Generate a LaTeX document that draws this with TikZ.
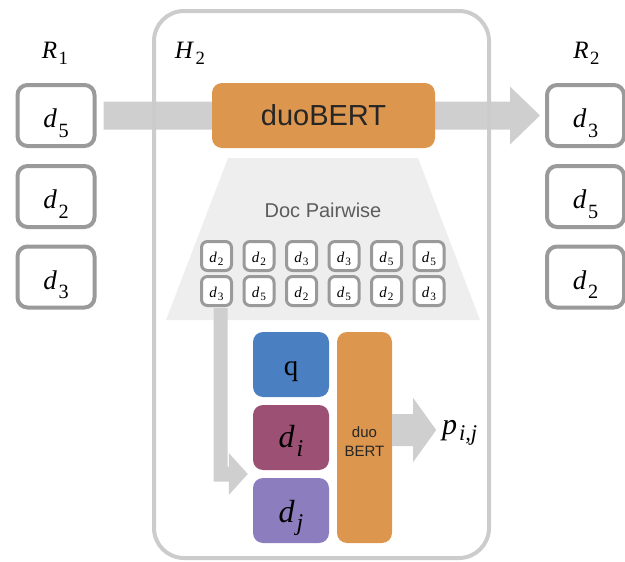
\documentclass[tikz,border=0pt]{standalone}
\usepackage{fontspec}
\usepackage{graphicx}
\setmainfont{Liberation Serif}
\newfontfamily\sansfam{Liberation Sans}
\usetikzlibrary{calc}

\definecolor{boxgray}{HTML}{9A9A9A}
\definecolor{framegray}{HTML}{CCCCCC}
\definecolor{arrowgray}{HTML}{CFCFCF}
\definecolor{trapgray}{HTML}{EEEEEE}
\definecolor{bertorange}{HTML}{DC964E}
\definecolor{qblue}{HTML}{4A7FC2}
\definecolor{dimauve}{HTML}{9B5074}
\definecolor{djpurple}{HTML}{8B7DBE}
\definecolor{labelgray}{HTML}{5C5C5C}

% italic symbol with a lowered, scaled subscript
\newcommand\symsub[3][0.2em]{\textit{#2}\kern0.06em\raisebox{-#1}{\scalebox{0.75}{#3}}}

\begin{document}
\begin{tikzpicture}[x=1pt,y=-1pt,
  docbox/.style={draw=boxgray, line width=4pt, rounded corners=10pt, fill=white,
    minimum width=77pt, minimum height=61pt, inner sep=0pt,
    text height=24pt, text depth=0pt, font=\fontsize{27pt}{31pt}\selectfont},
  pairbox/.style={draw=boxgray, line width=3pt, rounded corners=6pt, fill=white,
    minimum width=30pt, minimum height=29pt, inner sep=0pt,
    text height=12pt, text depth=0pt, font=\fontsize{15pt}{18pt}\selectfont},
  tile/.style={rounded corners=10pt, inner sep=0pt, minimum width=76pt, minimum height=65pt,
    text depth=0pt},
  headlabel/.style={anchor=base, inner sep=0pt, font=\fontsize{25pt}{29pt}\selectfont},
]
\useasboundingbox (0,0) rectangle (625,562);

% ranked lists R1 and R2
\node[docbox] (r1a) at (56,115.5) {\symsub[0.36em]{d}{5}};
\node[docbox] (r1b) at (56,196.5) {\symsub[0.36em]{d}{2}};
\node[docbox] (r1c) at (56,277)   {\symsub[0.36em]{d}{3}};
\node[docbox] (r2a) at (585.5,115.5) {\symsub[0.36em]{d}{3}};
\node[docbox] (r2b) at (585.5,196.5) {\symsub[0.36em]{d}{5}};
\node[docbox] (r2c) at (585.5,277)   {\symsub[0.36em]{d}{2}};

% main flow arrow from R1 to R2
\fill[arrowgray] ($(r1a.east)+(7,-14)$) -- ($(r2a.west)+(-35,-14)$) -- ++(0,-15)
  -- ($(r2a.west)+(-5,0)$) -- ($(r2a.west)+(-35,29)$) -- ++(0,-15)
  -- ($(r1a.east)+(7,14)$) -- cycle;

% H2 frame
\node[draw=framegray, line width=4pt, rounded corners=30pt, inner sep=0pt,
  minimum width=335pt, minimum height=547pt] (hframe) at (321.5,284.5) {};

% pairwise expansion area
\fill[trapgray] (228,158) -- (418,158) -- (480,320) -- (166,320) -- cycle;

% duoBERT stage
\node[fill=bertorange, rounded corners=10pt, minimum width=223pt, minimum height=65pt,
  inner sep=0pt, font=\sansfam\fontsize{29pt}{34pt}\selectfont, text=black!85]
  (bert) at (323.5,115.5) {duoBERT};

\node[text=labelgray, font=\sansfam\fontsize{20pt}{24pt}\selectfont, inner sep=0pt]
  (pairlabel) at (323,210) {Doc Pairwise};

% document pairs
\foreach \i/\top/\bot in {1/2/3, 2/2/5, 3/3/2, 4/3/5, 5/5/2, 6/5/3} {
  \node[pairbox] (t\i) at ({216.5+42.5*(\i-1)},256) {\symsub[0.25em]{d}{\top}};
  \node[pairbox] (b\i) at ({216.5+42.5*(\i-1)},291) {\symsub[0.25em]{d}{\bot}};
}

% pair inputs and the pairwise model
\node[tile, fill=qblue, text height=21pt, font=\fontsize{29pt}{33pt}\selectfont]
  (q) at (291,364.5) {q};
\node[tile, fill=dimauve, text height=19pt, font=\fontsize{32pt}{36pt}\selectfont]
  (di) at (291,437.5) {\symsub[0.3em]{d}{\textit{i}}};
\node[tile, fill=djpurple, text height=23pt, font=\fontsize{32pt}{36pt}\selectfont]
  (dj) at (291,510.5) {\symsub[0.25em]{d}{\textit{j}}};
\node[fill=bertorange, rounded corners=10pt, inner sep=0pt, minimum width=55pt,
  minimum height=211pt, align=center, text=black!85, text height=37pt, text depth=0pt,
  font=\sansfam\fontsize{15pt}{19pt}\selectfont] (dbv) at (364.5,437.5) {duo\\BERT};

% a pair fed into the model
\coordinate (etip) at ($(di.south west)!0.5!(dj.north west)+(-5,0)$);
\fill[arrowgray] ($(b1.south)+(-3,1)$) -- ($(b1.south)+(11,1)$) |- ($(etip)+(-19,-7.5)$)
  -- ($(etip)+(-19,-21)$) -- (etip) -- ($(etip)+(-19,21)$) -- ($(etip)+(-19,7.5)$)
  -| ($(b1.south)+(-3,1)$) -- cycle;

% pairwise score
\fill[arrowgray] ($(dbv.east)+(0,-23.5)$) -- ++(21,0) -- ++(0,-16) -- ++(23,32)
  -- ++(-23,32) -- ++(0,-16) -- ++(-21,0) -- cycle;
\node[anchor=base west, inner sep=0pt, font=\fontsize{30pt}{34pt}\selectfont]
  (pij) at (442,434) {\symsub[0.22em]{p}{\textit{i,j}}};

% headings
\node[headlabel] (r1lab) at (55,58)    {\symsub[0.24em]{R}{1}};
\node[headlabel] (h2lab) at (190,59)   {\symsub[0.24em]{H}{2}};
\node[headlabel] (r2lab) at (586.5,58) {\symsub[0.24em]{R}{2}};
\end{tikzpicture}
\end{document}
